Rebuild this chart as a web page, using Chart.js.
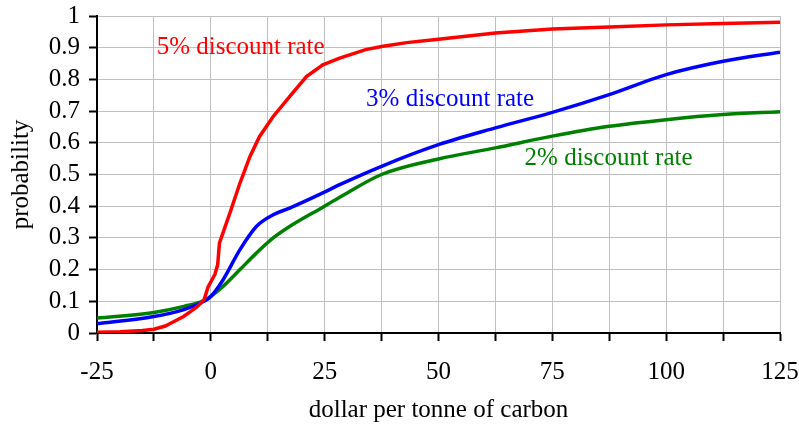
<!DOCTYPE html>
<html>
<head>
<meta charset="utf-8">
<script src="https://cdn.jsdelivr.net/npm/chart.js@4"></script>
<style>
  html, body { margin: 0; padding: 0; background: #fff; }
</style>
</head>
<body>
<canvas id="c" width="799" height="425"></canvas>
<script>
// values: x = dollar per tonne of carbon, y = probability
const redX = [-25, -20, -15, -12.5, -10, -8.5, -6, -4.4, -3, -1.5, -0.6, 0.9, 1.5, 1.9, 4.2, 6.4, 8.6, 10.7, 13.7, 17.3, 21, 24.6, 28.3, 31, 34, 37.5, 43, 50, 62.5, 75, 87.5, 100, 112.5, 125];
const redY = [0.002, 0.004, 0.008, 0.012, 0.022, 0.033, 0.052, 0.068, 0.083, 0.105, 0.145, 0.185, 0.215, 0.284, 0.379, 0.473, 0.557, 0.62, 0.683, 0.746, 0.809, 0.846, 0.867, 0.88, 0.894, 0.904, 0.916, 0.927, 0.946, 0.959, 0.965, 0.972, 0.976, 0.98];

const blueX = [-25, -12.5, -5.9, -1.5, 0, 2.7, 6.4, 10, 13.7, 17.3, 24.6, 28.3, 37.5, 50, 62.5, 75, 87.5, 100, 112.5, 125];
const blueY = [0.029, 0.052, 0.074, 0.1, 0.115, 0.168, 0.263, 0.336, 0.373, 0.394, 0.442, 0.468, 0.526, 0.594, 0.647, 0.696, 0.752, 0.815, 0.857, 0.886];

const greenX = [-25, -12.5, -5.9, -1.5, 0, 2.7, 6.4, 10, 13.7, 17.3, 24.6, 28.3, 37.5, 50, 62.5, 75, 87.5, 100, 112.5, 125];
const greenY = [0.047, 0.065, 0.084, 0.102, 0.116, 0.147, 0.2, 0.252, 0.3, 0.336, 0.397, 0.428, 0.5, 0.549, 0.584, 0.621, 0.652, 0.673, 0.689, 0.698];

const seriesNames = ["5% discount rate", "3% discount rate", "2% discount rate"];
const seriesColors = ["#ff0000", "#0000ff", "#008000"];

// where the in-chart labels sit, in data units (left edge, baseline)
const labelX = [-11.9, 34.1, 68.9];
const labelY = [0.881, 0.717, 0.529];

const FONT = "'Liberation Serif', 'Times New Roman', serif";
const FSIZE = 25;

function pts(xs, ys) {
  return xs.map((x, i) => ({ x: x, y: ys[i] }));
}

const seriesLabels = {
  id: "seriesLabels",
  afterDatasetsDraw(chart) {
    const ctx = chart.ctx;
    const xs = chart.scales.x, ys = chart.scales.y;
    ctx.save();
    ctx.font = FSIZE + "px " + FONT;
    ctx.textAlign = "left";
    ctx.textBaseline = "alphabetic";
    seriesNames.forEach((name, i) => {
      ctx.fillStyle = seriesColors[i];
      ctx.fillText(name, xs.getPixelForValue(labelX[i]), ys.getPixelForValue(labelY[i]));
    });
    ctx.restore();
  }
};

const lineSet = (xs, ys, i) => ({
  label: seriesNames[i],
  data: pts(xs, ys),
  borderColor: seriesColors[i],
  borderWidth: 3.5,
  pointRadius: 0,
  // red has a near-vertical jump just above 0, straight segments keep it from bulging
  cubicInterpolationMode: i === 0 ? "default" : "monotone",
  tension: 0,
  fill: false
});

new Chart(document.getElementById("c").getContext("2d"), {
  type: "line",
  data: {
    datasets: [
      lineSet(redX, redY, 0),
      lineSet(blueX, blueY, 1),
      lineSet(greenX, greenY, 2)
    ]
  },
  options: {
    responsive: false,
    animation: false,
    devicePixelRatio: 1,
    layout: { padding: { top: 16, right: 19, left: 0, bottom: 0 } },
    plugins: { legend: { display: false }, tooltip: { enabled: false } },
    scales: {
      x: {
        type: "linear",
        min: -25, max: 125,
        afterFit: s => { s.height = 92; s.paddingLeft = 0; s.paddingRight = 0; },
        ticks: {
          stepSize: 12.5,
          autoSkip: false,
          maxRotation: 0,
          padding: 16,
          color: "#000",
          font: { family: FONT, size: FSIZE },
          callback: v => (v % 25 === 0 ? String(v) : "")
        },
        grid: { color: "#c0c0c0", lineWidth: 1, tickColor: "#000", tickLength: 8, tickWidth: 2 },
        border: { color: "#000", width: 2 },
        title: {
          display: true,
          text: "dollar per tonne of carbon",
          color: "#000",
          font: { family: FONT, size: FSIZE },
          padding: { top: 0, bottom: 0 }
        }
      },
      y: {
        min: 0, max: 1,
        afterFit: s => { s.width = 97; s.paddingTop = 0; s.paddingBottom = 0; },
        ticks: {
          stepSize: 0.1,
          autoSkip: false,
          padding: 9,
          color: "#000",
          font: { family: FONT, size: FSIZE },
          callback: v => String(Math.round(v * 10) / 10)
        },
        grid: { color: "#c0c0c0", lineWidth: 1, tickColor: "#000", tickLength: 8, tickWidth: 2 },
        border: { color: "#000", width: 2 },
        title: {
          display: true,
          text: "probability",
          color: "#000",
          font: { family: FONT, size: FSIZE },
          padding: { top: 6, bottom: 0 }
        }
      }
    }
  },
  plugins: [seriesLabels]
});
</script>
</body>
</html>
